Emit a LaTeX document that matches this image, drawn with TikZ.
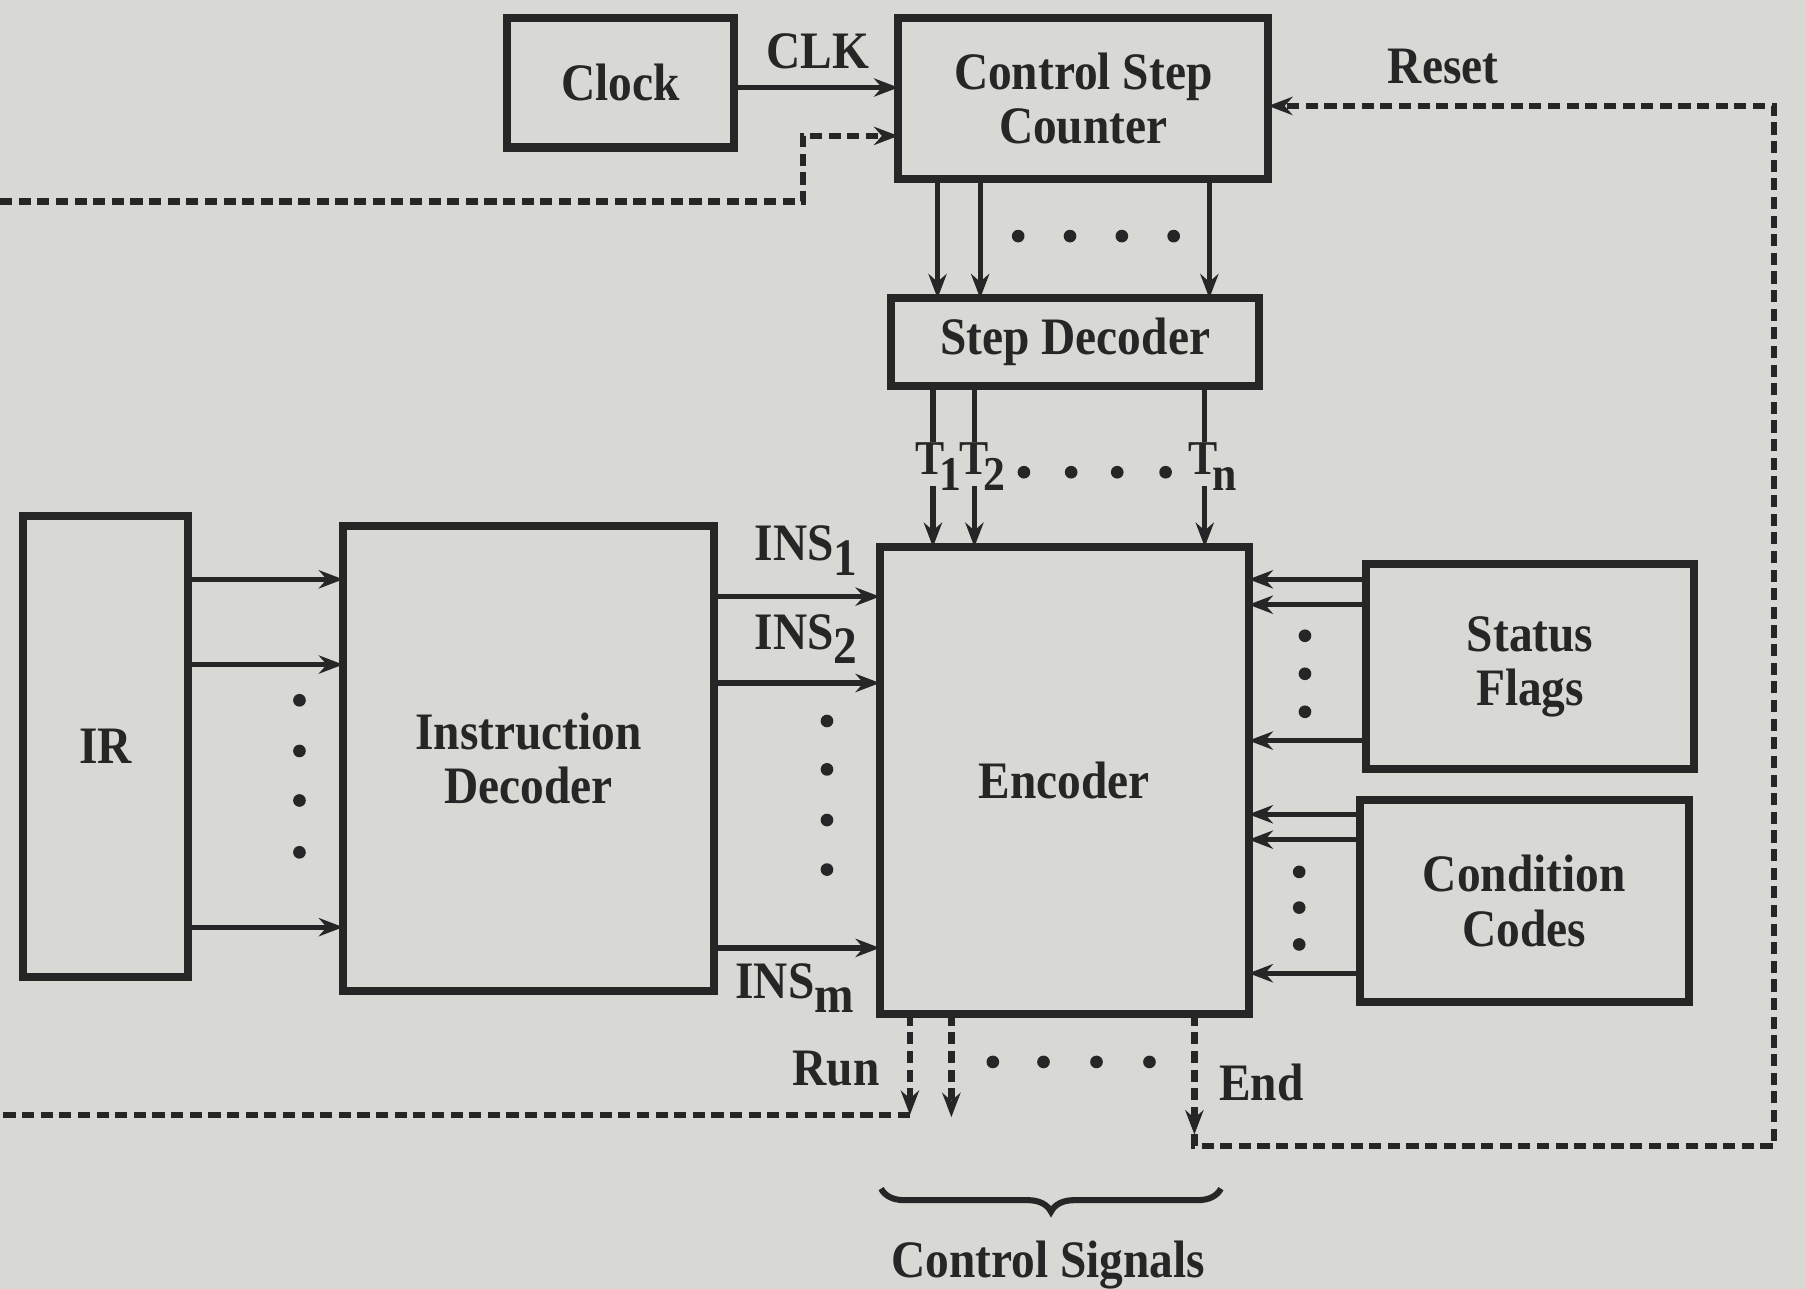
\documentclass[tikz,border=0pt]{standalone}
\usepackage{fontspec}
\setmainfont{Liberation Serif}[FakeStretch=0.9]
\usetikzlibrary{arrows.meta,decorations.pathreplacing,calc}
\definecolor{bg}{RGB}{216,216,213}
\definecolor{ink}{RGB}{38,38,38}
\newcommand{\lsub}[1]{\raisebox{-0.6ex}{#1}}
\newcommand{\tsub}[1]{\kern-1.2pt\raisebox{-0.7ex}{#1}}
\begin{document}
\begin{tikzpicture}[x=0.01cm,y=-0.01cm,
  font=\fontsize{13}{13.5}\selectfont\bfseries, color=ink,
  box/.style={draw=ink, line width=2pt, fill=bg, inner sep=0pt, outer sep=0pt, align=center},
  arr/.style={line width=1.3pt, -{Stealth[length=6pt,width=4.5pt]}},
  dsh/.style={line width=1.6pt, dash pattern=on 3pt off 1.6pt},
  dsha/.style={dsh, -{Stealth[length=6pt,width=4.5pt]}},
  tlab/.style={inner sep=0pt, font=\fontsize{12}{13}\selectfont\bfseries},
  dot/.style={fill=ink}]
\fill[bg] (0,0) rectangle (1568,1119);
\useasboundingbox (0,0) rectangle (1568,1119);

% boxes
\node[box, minimum width=1.97cm, minimum height=1.12cm] (clock) at (538.5,72) {Clock};
\node[box, minimum width=3.21cm, minimum height=1.39cm] (csc) at (940.5,85.5) {Control Step\\Counter};
\node[box, minimum width=3.19cm, minimum height=0.76cm] (sdec) at (933.5,297) {Step Decoder};
\node[box, minimum width=3.20cm, minimum height=4.05cm] (enc) at (924,677.5) {Encoder};
\node[box, minimum width=1.43cm, minimum height=4.00cm] (ir) at (91.5,648) {IR};
\node[box, minimum width=3.22cm, minimum height=4.03cm] (idec) at (459,658.5) {Instruction\\Decoder};
\node[box, minimum width=2.85cm, minimum height=1.78cm] (sf) at (1328.5,579) {Status\\Flags};
\node[box, minimum width=2.85cm, minimum height=1.75cm] (cc) at (1323.5,782.5) {Condition\\Codes};

% clock
\draw[arr] (clock.east |- 0,76) -- (csc.west |- 0,76);
\node (clk) at (710,45) {CLK};

% counter -> step decoder
\foreach \x in {814,851,1050} \draw[arr] (csc.south -| \x,0) -- (sdec.north -| \x,0);
\foreach \x in {884,929,974,1019} \fill[dot] (\x,205) circle (0.055cm);

% step decoder -> encoder (lines broken by the T labels)
\foreach \x in {810,846,1046} {
  \draw[line width=1.3pt] (sdec.south -| \x,0) -- (\x,384);
  \draw[arr] (\x,422) -- (enc.north -| \x,0);
}
\node[tlab] (t1) at (815,405) {T\tsub{1}};
\node[tlab] (t2) at (853,405) {T\tsub{2}};
\node[tlab] (tn) at (1053,405) {T\tsub{n}};
\foreach \x in {889,930,970,1012} \fill[dot] (\x,410) circle (0.055cm);

% IR -> instruction decoder
\foreach \y in {503,577,805} \draw[arr] (ir.east |- 0,\y) -- (idec.west |- 0,\y);
\foreach \y in {608,652,695,740} \fill[dot] (260,\y) circle (0.055cm);

% instruction decoder -> encoder
\foreach \y in {518,593,823} \draw[arr] (idec.east |- 0,\y) -- (enc.west |- 0,\y);
\node (ins1) at (700,478) {INS\lsub{1}};
\node (ins2) at (700,555) {INS\lsub{2}};
\node (insm) at (690,858) {INS\lsub{m}};
\foreach \y in {626,668,712,755} \fill[dot] (718,\y) circle (0.055cm);

% status flags / condition codes -> encoder
\foreach \y in {503,525,643} \draw[arr] (sf.west |- 0,\y) -- (enc.east |- 0,\y);
\foreach \y in {552,585,618} \fill[dot] (1133,\y) circle (0.055cm);
\foreach \y in {707,729,845} \draw[arr] (cc.west |- 0,\y) -- (enc.east |- 0,\y);
\foreach \y in {757,788,820} \fill[dot] (1128,\y) circle (0.055cm);

% control signal outputs
\coordinate (runL) at (0,968);
\coordinate (runC) at (790,968);
\draw[dsha] (enc.south -| runC) -- (runC);
\draw[dsh] (runC) -- (runL);
\draw[dsha] (enc.south -| 826,0) -- (826,970);
\coordinate (endC) at (1037,985);
\draw[dsha] (enc.south -| endC) -- (endC);
\draw[dsha] (endC) -- (1037,995) -- (1540,995) -- (1540,92) -- (csc.east |- 0,92);
\foreach \x in {862,906,952,998} \fill[dot] (\x,922) circle (0.055cm);
\node (run) at (726,928) {Run};
\node (end) at (1095,940) {End};
\node (reset) at (1253,58) {Reset};

% feedback into counter (from left)
\coordinate (fbL) at (0,175);
\draw[dsha] (fbL) -- (697,175) -- (697,118) -- (csc.west |- 0,118);

% brace
\draw[line width=1.5pt, decorate, decoration={brace, mirror, amplitude=0.2cm}] (765,1032) -- (1060,1032);
\node (cs) at (910,1098) {Control Signals};
\end{tikzpicture}
\end{document}
